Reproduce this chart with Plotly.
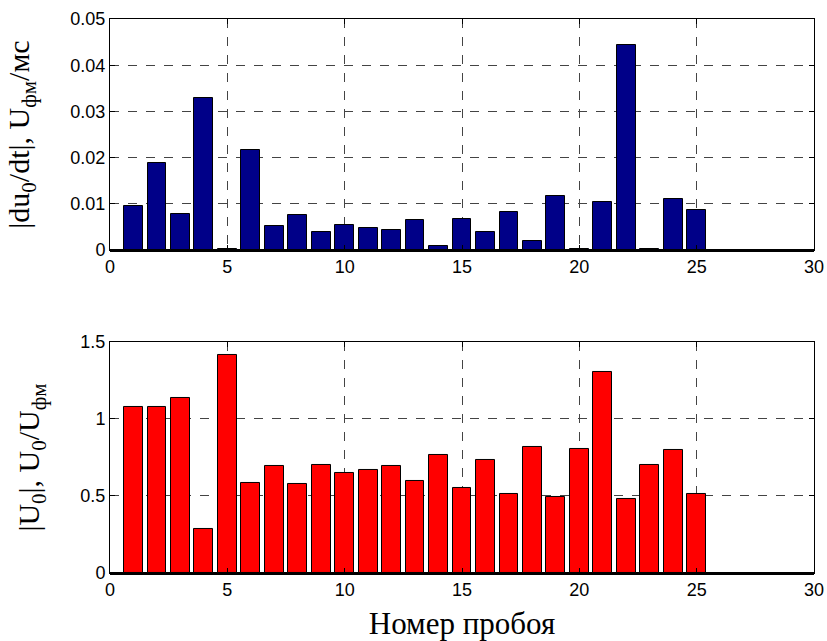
import plotly.graph_objects as go
from plotly.subplots import make_subplots

breakdowns = list(range(1, 26))
dudt_values = [0.0096, 0.0188, 0.0079, 0.0328, 0.0002, 0.0216, 0.0051, 0.0075, 0.0040, 0.0054,
               0.0047, 0.0043, 0.0065, 0.0008, 0.0068, 0.0040, 0.0082, 0.0020, 0.0117, 0.0002,
               0.0103, 0.0444, 0.0002, 0.0111, 0.0086]
u0_values = [1.08, 1.08, 1.134, 0.284, 1.418, 0.587, 0.693, 0.578, 0.703, 0.649,
             0.671, 0.693, 0.597, 0.766, 0.554, 0.734, 0.513, 0.818, 0.494, 0.807,
             1.305, 0.483, 0.703, 0.799, 0.513]
x_ticks = [0, 5, 10, 15, 20, 25, 30]
top_y_ticks = [0, 0.01, 0.02, 0.03, 0.04, 0.05]
top_y_labels = ["0", "0.01", "0.02", "0.03", "0.04", "0.05"]
bot_y_ticks = [0, 0.5, 1, 1.5]
bot_y_labels = ["0", "0.5", "1", "1.5"]

fig = make_subplots(rows=2, cols=1, vertical_spacing=0.166)

fig.add_trace(go.Bar(x=breakdowns, y=dudt_values, width=0.8,
                     marker=dict(color="#000088", line=dict(color="black", width=1))),
              row=1, col=1)
fig.add_trace(go.Bar(x=breakdowns, y=u0_values, width=0.8,
                     marker=dict(color="#FF0000", line=dict(color="black", width=1))),
              row=2, col=1)

tick_font = dict(family="Liberation Sans, Arial, sans-serif", size=18, color="black")
title_font = dict(family="Liberation Serif, Times New Roman, serif", size=30, color="black")
xtitle_font = dict(family="Liberation Serif, Times New Roman, serif", size=31, color="black")

common_x = dict(range=[0, 30], tickvals=x_ticks, ticks="inside", ticklen=5, tickcolor="black",
                showline=True, linecolor="black", linewidth=1, mirror="ticks",
                showgrid=True, gridcolor="#444444", griddash="dash", gridwidth=1,
                tickfont=tick_font, zeroline=False, automargin=False)
common_y = dict(ticks="inside", ticklen=5, tickcolor="black",
                showline=True, linecolor="black", linewidth=1, mirror="ticks",
                showgrid=True, gridcolor="#444444", griddash="dash", gridwidth=1,
                tickfont=tick_font, zeroline=True, zerolinecolor="black", zerolinewidth=3,
                automargin=False)

fig.update_xaxes(**common_x, row=1, col=1)
fig.update_xaxes(**common_x, row=2, col=1,
                 title=dict(text="Номер пробоя", font=xtitle_font, standoff=16))
fig.update_yaxes(**common_y, range=[0, 0.05], tickvals=top_y_ticks, ticktext=top_y_labels,
                 title=dict(text="|du<sub>0</sub>/dt|, U<sub>фм</sub>/мс", font=title_font, standoff=31),
                 row=1, col=1)
fig.update_yaxes(**common_y, range=[0, 1.5], tickvals=bot_y_ticks, ticktext=bot_y_labels,
                 title=dict(text="|U<sub>0</sub>|, U<sub>0</sub>/U<sub>фм</sub>", font=title_font, standoff=31),
                 row=2, col=1)

fig.update_layout(width=827, height=641, showlegend=False,
                  margin=dict(l=110, r=13, t=19, b=68),
                  plot_bgcolor="white", paper_bgcolor="white",
                  bargap=0)
fig.update_layout(xaxis=dict(domain=[0, 1]), yaxis=dict(domain=[0.583, 1]),
                  yaxis2=dict(domain=[0, 0.417]))

fig.write_html("out.html", config={"displayModeBar": False},
               post_script="document.body.style.margin='0';document.body.style.padding='0';")
